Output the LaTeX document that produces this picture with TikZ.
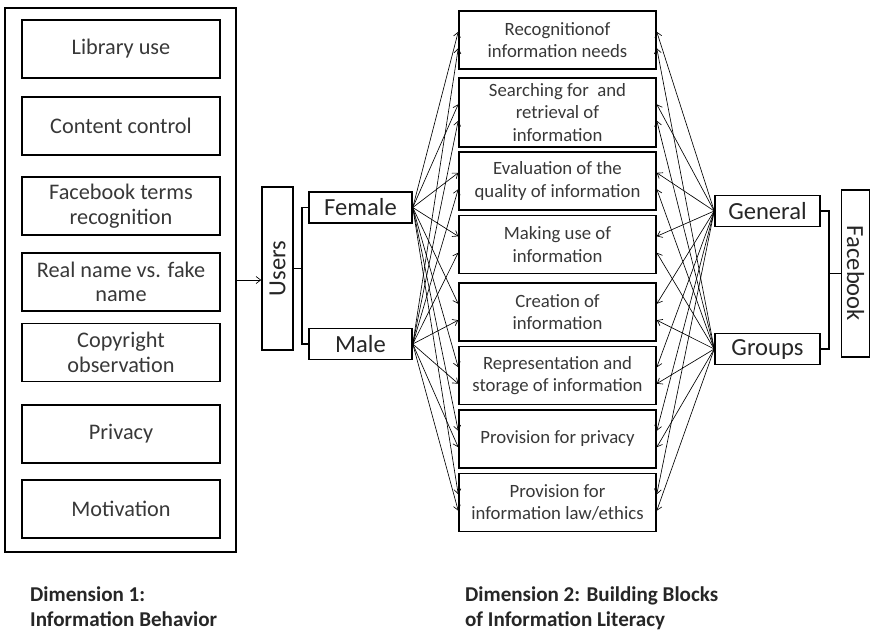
\documentclass[tikz,border=0pt]{standalone}
\usepackage{fontspec}
\setmainfont{Carlito}
\usetikzlibrary{arrows.meta}

\tikzset{
  frame/.style={draw, line width=1.3pt, inner sep=1pt, align=center, text=black!78},
  behbox/.style={frame, minimum width=5.94cm, minimum height=1.74cm, font=\fontsize{19}{21}\selectfont},
  blockbox/.style={frame, minimum width=5.91cm, minimum height=1.74cm, font=\fontsize{16}{19}\selectfont},
  groupbox/.style={frame, minimum height=0.93cm, font=\fontsize{21}{24}\selectfont, text=black!85},
  conn/.style={->, line width=0.55pt},
  dimlabel/.style={anchor=north west, align=left, text=black!85, font=\fontsize{18}{21}\selectfont\bfseries}
}

\begin{document}
\begin{tikzpicture}[x=0.03cm, y=-0.03cm, >={Straight Barb[length=4pt,width=6pt]}]
\useasboundingbox (0,0) rectangle (871,634);

% dimension 1
\node[frame, minimum width=6.93cm, minimum height=16.32cm] (dimone) at (120.5,280) {};
\node[behbox] (libuse)  at (121,49)  {Library use};
\node[behbox] (content) at (121,126) {Content control};
\node[behbox] (terms)   at (121,206) {Facebook terms\\recognition};
\node[behbox] (realname) at (121,282) {Real name vs. fake\\name};
\node[behbox] (copyr)   at (121,352.5) {Copyright\\observation};
\node[behbox] (privacy) at (121,434) {Privacy};
\node[behbox] (motiv)   at (121,509) {Motivation};

% users
\node[groupbox, rotate=90, minimum width=4.89cm] (users) at (277.5,268.5) {Users};
\node[groupbox, minimum width=3.09cm] (female) at (360.5,207.5) {Female};
\node[groupbox, minimum width=3.09cm] (male)   at (360.5,344) {Male};

\draw[conn] (dimone.east) -- (dimone.east -| users.north);
\draw[line width=1.3pt] (users.south) -- ++(8,0) coordinate (ubr);
\draw[line width=1.3pt] (female.west) -| (ubr) |- (male.west);

% dimension 2
\node[blockbox] (m1) at (557.5,40)    {Recognitionof\\information needs};
\node[blockbox, minimum height=2.07cm] (m2) at (557.5,112.5) {Searching for~ and\\retrieval of\\information};
\node[blockbox] (m3) at (557.5,181)   {Evaluation of the\\quality of information};
\node[blockbox] (m4) at (557.5,244.5) {Making use of\\information};
\node[blockbox] (m5) at (557.5,312)   {Creation of\\information};
\node[blockbox] (m6) at (557.5,375.5) {Representation and\\storage of information};
\node[blockbox] (m7) at (557.5,439)   {Provision for privacy};
\node[blockbox] (m8) at (557.5,502.5) {Provision for\\information law/ethics};

% facebook
\node[groupbox, minimum width=3.15cm] (general) at (767.5,211) {General};
\node[groupbox, minimum width=3.15cm] (groups)  at (767.5,349) {Groups};
\node[groupbox, rotate=-90, minimum width=5.0cm, minimum height=0.84cm] (facebook) at (855.5,273.5) {Facebook};

\draw[line width=1.3pt] (facebook.south) -- ++(-12,0) coordinate (fbr);
\draw[line width=1.3pt] (general.east) -| (fbr) |- (groups.east);

\foreach \i in {1,...,8} {
  \draw[conn] (female.east) -- ([yshift=7pt]m\i.west);
  \draw[conn] (male.east) -- ([yshift=-7pt]m\i.west);
  \draw[conn] (general.west) -- ([yshift=7pt]m\i.east);
  \draw[conn] (groups.west) -- ([yshift=-7pt]m\i.east);
}

\node[dimlabel] (dimonelab) at (26,583) {Dimension 1:\\Information Behavior};
\node[dimlabel] (dimtwolab) at (461,583) {Dimension 2: Building Blocks\\of Information Literacy};

\end{tikzpicture}
\end{document}
